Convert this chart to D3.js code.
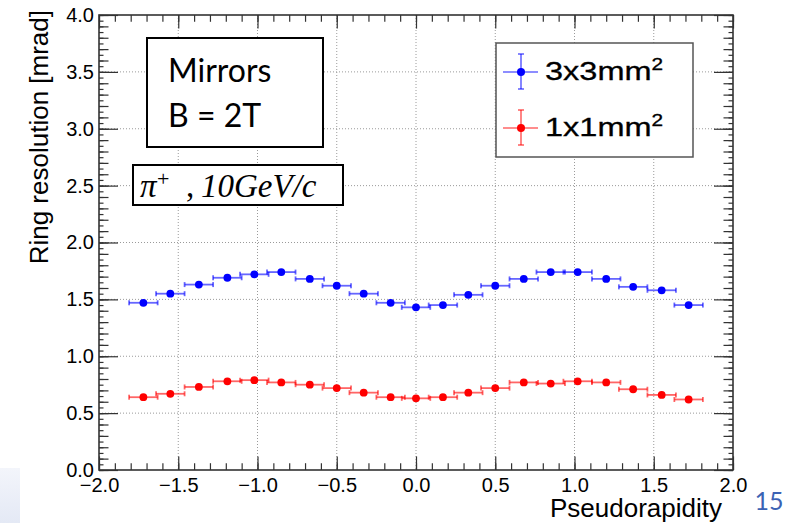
<!DOCTYPE html>
<meta charset="utf-8">
<style>
    body { margin: 0; background: #fff; }
    svg { display: block; font-family: "Liberation Sans", Arial, sans-serif; }
</style>
<svg width="791" height="523"></svg>
<script src="https://d3js.org/d3.v7.min.js"></script>
<script>
    // bin centres in pseudorapidity
    const eta = [-1.72, -1.55, -1.37, -1.19, -1.02, -0.85, -0.67, -0.50, -0.33, -0.16, 0.00,
                 0.17, 0.33, 0.50, 0.68, 0.85, 1.02, 1.20, 1.37, 1.55, 1.72];
    const etaHalf = 0.09;
    const res3x3 = [1.47, 1.55, 1.63, 1.69, 1.72, 1.74, 1.68, 1.62, 1.55, 1.47, 1.43,
                    1.45, 1.54, 1.62, 1.68, 1.74, 1.74, 1.68, 1.61, 1.58, 1.45];
    const res1x1 = [0.64, 0.67, 0.73, 0.78, 0.79, 0.77, 0.75, 0.72, 0.68, 0.64, 0.63,
                    0.64, 0.68, 0.72, 0.77, 0.76, 0.78, 0.77, 0.71, 0.66, 0.62];
    const xTicks = [-2, -1.5, -1, -0.5, 0, 0.5, 1, 1.5, 2];
    const yTicks = [0, 0.5, 1, 1.5, 2, 2.5, 3, 3.5, 4];
    const seriesNames = ["3x3mm", "1x1mm"];
    const seriesColors = ["#0000ff", "#ff0000"];

    const svg = d3.select("svg");
    const pL = 99, pR = 733, pT = 15, pB = 470;

    const x = d3.scaleLinear().domain([-2, 2]).range([pL, pR]);
    const y = d3.scaleLinear().domain([0, 4]).range([pB, pT]);

    // slide decoration + page number
    const grad = svg.append("defs").append("linearGradient")
        .attr("id", "fade").attr("x1", 0).attr("y1", 0).attr("x2", 0).attr("y2", 1);
    grad.append("stop").attr("offset", 0).attr("stop-color", "#f3f5fb");
    grad.append("stop").attr("offset", 1).attr("stop-color", "#e4e9f5");
    svg.append("rect").attr("x", 0).attr("y", 468).attr("width", 20).attr("height", 55)
        .attr("fill", "url(#fade)");
    svg.append("text").attr("x", 769).attr("y", 510).attr("text-anchor", "middle")
        .attr("font-family", "Lato, 'Open Sans', sans-serif").attr("font-size", 25)
        .attr("fill", "#3b62b4").text("15");

    // dotted grid
    const grid = svg.append("g").attr("stroke", "#9a9a9a").attr("stroke-dasharray", "1,2");
    grid.selectAll(".gx").data(xTicks.slice(1, -1)).join("line")
        .attr("x1", d => x(d)).attr("x2", d => x(d)).attr("y1", pT).attr("y2", pB);
    grid.selectAll(".gy").data(yTicks.slice(1, -1)).join("line")
        .attr("y1", d => y(d)).attr("y2", d => y(d)).attr("x1", pL).attr("x2", pR);

    // axes, ROOT style: ticks inside, mirrored on top and right
    const fmt = d => d3.format(".1f")(d).replace("-", "\u2212");
    const range = (a, b, s) => d3.range(Math.round((b - a) / s) + 1).map(i => +(a + i * s).toFixed(3));
    const xMinor = range(-2, 2, 0.1);
    const yMinor = range(0, 4, 0.1);
    const yTiny = range(0, 4, 0.05);

    function addAxis(axis, tr, values, size, labels) {
        const g = svg.append("g").attr("transform", tr)
            .call(axis.tickValues(values).tickSizeInner(-size).tickSizeOuter(0)
                .tickFormat(labels ? fmt : ""));
        g.select(".domain").remove();
        g.selectAll("line").attr("stroke", "#333").attr("stroke-width", 1.2);
        return g;
    }
    addAxis(d3.axisBottom(x), `translate(0,${pB})`, xMinor, 6.8, false);
    addAxis(d3.axisTop(x), `translate(0,${pT})`, xMinor, 6.8, false);
    addAxis(d3.axisLeft(y), `translate(${pL},0)`, yTiny, 4.5, false);
    addAxis(d3.axisRight(y), `translate(${pR},0)`, yTiny, 4.5, false);
    addAxis(d3.axisLeft(y), `translate(${pL},0)`, yMinor, 9.5, false);
    addAxis(d3.axisRight(y), `translate(${pR},0)`, yMinor, 9.5, false);
    addAxis(d3.axisTop(x), `translate(0,${pT})`, xTicks, 13.6, false);
    addAxis(d3.axisRight(y), `translate(${pR},0)`, yTicks, 19, false);
    const gx = addAxis(d3.axisBottom(x), `translate(0,${pB})`, xTicks, 13.6, true);
    const gy = addAxis(d3.axisLeft(y), `translate(${pL},0)`, yTicks, 19, true);
    gx.selectAll("text").attr("font-size", 20).attr("fill", "#000").attr("dy", "0.71em")
        .attr("y", 8);
    gy.selectAll("text").attr("font-size", 20).attr("fill", "#000").attr("x", -5);
    svg.selectAll(".tick text").attr("font-family", "'Liberation Sans', Arial, sans-serif");

    svg.append("rect").attr("x", pL).attr("y", pT)
        .attr("width", pR - pL).attr("height", pB - pT)
        .attr("fill", "none").attr("stroke", "#333").attr("stroke-width", 1.6);

    // axis titles
    svg.append("text").attr("x", 722).attr("y", 517).attr("text-anchor", "end")
        .attr("font-size", 26).text("Pseudorapidity");
    svg.append("text").attr("transform", "translate(48,10) rotate(-90)")
        .attr("text-anchor", "end").attr("font-size", 26).text("Ring resolution [mrad]");

    // data: horizontal error bars with end caps and filled circles
    [res3x3, res1x1].forEach((vals, k) => {
        const pts = eta.map((e, i) => ({ e: e, v: vals[i] }));
        const g = svg.append("g");
        const bars = g.append("g").attr("stroke", seriesColors[k])
            .attr("stroke-opacity", 0.6).attr("stroke-width", 1.8);
        bars.selectAll("line.h").data(pts).join("line")
            .attr("x1", d => x(d.e - etaHalf)).attr("x2", d => x(d.e + etaHalf))
            .attr("y1", d => y(d.v)).attr("y2", d => y(d.v));
        [-1, 1].forEach(s => {
            bars.selectAll("line.c" + s).data(pts).join("line")
                .attr("x1", d => x(d.e + s * etaHalf)).attr("x2", d => x(d.e + s * etaHalf))
                .attr("y1", d => y(d.v) - 2.5).attr("y2", d => y(d.v) + 2.5);
        });
        g.selectAll("circle").data(pts).join("circle")
            .attr("cx", d => x(d.e)).attr("cy", d => y(d.v)).attr("r", 3.9)
            .attr("fill", seriesColors[k]);
    });

    // legend
    svg.append("rect").attr("x", 496).attr("y", 43).attr("width", 197).attr("height", 114)
        .attr("fill", "#fff").attr("stroke", "#555").attr("stroke-width", 1.5);
    seriesNames.forEach((name, k) => {
        const cy = 72 + k * 56, cx = 521;
        const g = svg.append("g");
        const s = g.append("g").attr("stroke", seriesColors[k]).attr("stroke-opacity", 0.6)
            .attr("stroke-width", 1.6);
        s.append("line").attr("x1", 503).attr("x2", 538).attr("y1", cy).attr("y2", cy);
        s.append("line").attr("x1", cx).attr("x2", cx).attr("y1", cy - 18).attr("y2", cy + 17);
        s.append("line").attr("x1", cx - 3).attr("x2", cx + 3).attr("y1", cy - 18).attr("y2", cy - 18);
        s.append("line").attr("x1", cx - 3).attr("x2", cx + 3).attr("y1", cy + 17).attr("y2", cy + 17);
        g.append("circle").attr("cx", cx).attr("cy", cy).attr("r", 4).attr("fill", seriesColors[k]);
        // legend text in the slide is drawn wide
        const t = g.append("text").attr("transform", `translate(545,${cy + 8}) scale(1.3,1)`)
            .attr("font-size", 25).attr("stroke", "#000").attr("stroke-width", 0.3).text(name);
        t.append("tspan").attr("dy", -10).attr("font-size", 16).text("2");
    });

    // annotation boxes
    svg.append("rect").attr("x", 147).attr("y", 38).attr("width", 176).attr("height", 109)
        .attr("fill", "#fff").attr("stroke", "#000").attr("stroke-width", 2);
    const lab = svg.append("g").attr("font-family", "Lato, 'Open Sans', sans-serif")
        .attr("font-size", 32);
    lab.append("text").attr("x", 168).attr("y", 82).text("Mirrors");
    lab.append("text").attr("x", 168).attr("y", 127).text("B = 2T");

    svg.append("rect").attr("x", 133).attr("y", 165).attr("width", 210).attr("height", 40)
        .attr("fill", "#fff").attr("stroke", "#000").attr("stroke-width", 2);
    const pt = svg.append("text").attr("y", 197)
        .attr("font-family", "'Liberation Serif', 'Times New Roman', serif")
        .attr("font-style", "italic").attr("font-size", 33);
    pt.append("tspan").attr("x", 140).text("\u03c0");
    pt.append("tspan").attr("x", 157).attr("dy", -11).attr("font-size", 22)
        .attr("font-style", "normal").text("+");
    pt.append("tspan").attr("x", 186).attr("dy", 11).attr("font-style", "normal").text(",");
    pt.append("tspan").attr("x", 201).text("10GeV/c");
</script>
